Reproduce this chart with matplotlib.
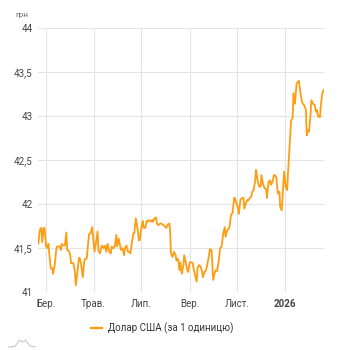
import matplotlib
matplotlib.use("Agg")
import matplotlib.pyplot as plt
import matplotlib.dates as mdates
import pandas as pd
from matplotlib.lines import Line2D

plt.rcParams["font.family"] = ["Roboto", "DejaVu Sans"]

# Курс долара США до гривні (за 1 одиницю)
dates = [
    "2025-02-19", "2025-02-21", "2025-02-23", "2025-02-24", "2025-02-26", "2025-02-27",
    "2025-03-01", "2025-03-03", "2025-03-04", "2025-03-05", "2025-03-07", "2025-03-09",
    "2025-03-10", "2025-03-12", "2025-03-14", "2025-03-15", "2025-03-18", "2025-03-20",
    "2025-03-21", "2025-03-23", "2025-03-25", "2025-03-27", "2025-03-28", "2025-03-30",
    "2025-04-01", "2025-04-02", "2025-04-05", "2025-04-07", "2025-04-08", "2025-04-10",
    "2025-04-12", "2025-04-13", "2025-04-15", "2025-04-17", "2025-04-19", "2025-04-20",
    "2025-04-22", "2025-04-25", "2025-04-27", "2025-04-29", "2025-05-01", "2025-05-02",
    "2025-05-04", "2025-05-06", "2025-05-07", "2025-05-09", "2025-05-11", "2025-05-12",
    "2025-05-14", "2025-05-16", "2025-05-17", "2025-05-19", "2025-05-21", "2025-05-23",
    "2025-05-24", "2025-05-26", "2025-05-28", "2025-05-30", "2025-05-31", "2025-06-02",
    "2025-06-04", "2025-06-05", "2025-06-07", "2025-06-09", "2025-06-10", "2025-06-12",
    "2025-06-14", "2025-06-16", "2025-06-17", "2025-06-19", "2025-06-21", "2025-06-22",
    "2025-06-24", "2025-06-26", "2025-06-28", "2025-06-29", "2025-07-01", "2025-07-03",
    "2025-07-04", "2025-07-06", "2025-07-08", "2025-07-09", "2025-07-11", "2025-07-13",
    "2025-07-15", "2025-07-16", "2025-07-18", "2025-07-20", "2025-07-21", "2025-07-23",
    "2025-07-25", "2025-07-27", "2025-07-28", "2025-07-30", "2025-08-01", "2025-08-02",
    "2025-08-04", "2025-08-06", "2025-08-07", "2025-08-08", "2025-08-10", "2025-08-12",
    "2025-08-14", "2025-08-15", "2025-08-17", "2025-08-19", "2025-08-20", "2025-08-22",
    "2025-08-24", "2025-08-25", "2025-08-27", "2025-08-29", "2025-08-30", "2025-09-01",
    "2025-09-03", "2025-09-05", "2025-09-06", "2025-09-08", "2025-09-10", "2025-09-11",
    "2025-09-13", "2025-09-15", "2025-09-17", "2025-09-18", "2025-09-20", "2025-09-22",
    "2025-09-23", "2025-09-25", "2025-09-27", "2025-09-29", "2025-09-30", "2025-10-01",
    "2025-10-04", "2025-10-06", "2025-10-08", "2025-10-10", "2025-10-12", "2025-10-14",
    "2025-10-16", "2025-10-17", "2025-10-19", "2025-10-21", "2025-10-22", "2025-10-24",
    "2025-10-26", "2025-10-28", "2025-10-29", "2025-10-31", "2025-11-02", "2025-11-03",
    "2025-11-05", "2025-11-07", "2025-11-09", "2025-11-10", "2025-11-12", "2025-11-14",
    "2025-11-15", "2025-11-17", "2025-11-19", "2025-11-20", "2025-11-22", "2025-11-24",
    "2025-11-25", "2025-11-27", "2025-11-29", "2025-12-01", "2025-12-02", "2025-12-04",
    "2025-12-06", "2025-12-08", "2025-12-09", "2025-12-11", "2025-12-13", "2025-12-14",
    "2025-12-16", "2025-12-18", "2025-12-19", "2025-12-21", "2025-12-23", "2025-12-25",
    "2025-12-26", "2025-12-28", "2025-12-30", "2025-12-31", "2026-01-02", "2026-01-04",
    "2026-01-05", "2026-01-07", "2026-01-09", "2026-01-11", "2026-01-12", "2026-01-14",
    "2026-01-16", "2026-01-18", "2026-01-19", "2026-01-21", "2026-01-23", "2026-01-24",
    "2026-01-26", "2026-01-28", "2026-01-29", "2026-01-30", "2026-02-01", "2026-02-03",
    "2026-02-04", "2026-02-06", "2026-02-08", "2026-02-10", "2026-02-11", "2026-02-13",
    "2026-02-15", "2026-02-16", "2026-02-18", "2026-02-20",
]

rate = [
    41.55, 41.71, 41.73, 41.57, 41.73, 41.73,
    41.52, 41.50, 41.55, 41.44, 41.27, 41.27,
    41.21, 41.31, 41.48, 41.52, 41.52, 41.48,
    41.55, 41.53, 41.53, 41.68, 41.48, 41.47,
    41.42, 41.33, 41.33, 41.23, 41.08, 41.21,
    41.39, 41.39, 41.31, 41.17, 41.36, 41.38,
    41.38, 41.66, 41.67, 41.74, 41.55, 41.46,
    41.57, 41.69, 41.48, 41.44, 41.52, 41.53,
    41.50, 41.53, 41.46, 41.55, 41.46, 41.44,
    41.52, 41.50, 41.52, 41.65, 41.52, 41.61,
    41.52, 41.48, 41.50, 41.42, 41.50, 41.53,
    41.46, 41.46, 41.44, 41.57, 41.67, 41.67,
    41.84, 41.73, 41.59, 41.59, 41.73, 41.81,
    41.73, 41.73, 41.81, 41.80, 41.82, 41.80,
    41.82, 41.80, 41.84, 41.85, 41.78, 41.76,
    41.78, 41.78, 41.77, 41.76, 41.74, 41.73,
    41.77, 41.78, 41.69, 41.44, 41.40, 41.46,
    41.42, 41.36, 41.38, 41.25, 41.34, 41.21,
    41.31, 41.42, 41.34, 41.25, 41.23, 41.34,
    41.34, 41.33, 41.27, 41.19, 41.12, 41.27,
    41.31, 41.29, 41.23, 41.17, 41.23, 41.25,
    41.29, 41.38, 41.49, 41.48, 41.33, 41.14,
    41.25, 41.24, 41.34, 41.50, 41.52, 41.67,
    41.74, 41.63, 41.70, 41.72, 41.74, 41.88,
    41.90, 42.07, 42.07, 42.01, 41.95, 41.89,
    42.05, 42.07, 42.07, 41.95, 42.01, 42.05,
    42.04, 42.07, 42.09, 42.14, 42.16, 42.27,
    42.39, 42.27, 42.20, 42.20, 42.33, 42.23,
    42.18, 42.17, 42.07, 42.25, 42.27, 42.22,
    42.25, 42.33, 42.33, 42.31, 42.12, 42.14,
    41.97, 41.93, 42.23, 42.37, 42.20, 42.16,
    42.35, 42.65, 42.95, 42.98, 43.26, 43.14,
    43.37, 43.39, 43.40, 43.26, 43.16, 43.14,
    43.12, 43.07, 42.78, 42.84, 42.82, 43.03,
    43.18, 43.14, 43.13, 43.05, 43.07, 42.99,
    42.99, 43.11, 43.26, 43.30,
]

y_ticks = [41, 41.5, 42, 42.5, 43, 43.5, 44]
y_labels = ["41", "41,5", "42", "42,5", "43", "43,5", "44"]
x_ticks = ["2025-03-01", "2025-05-01", "2025-07-01", "2025-09-01", "2025-11-01", "2026-01-01"]
x_labels = ["Бер.", "Трав.", "Лип.", "Вер.", "Лист.", "2026"]
series_name = "Долар США (за 1 одиницю)"

line_color = "#ff9d12"
grid_color = "#e4e4e4"
label_color = "#444444"

x = pd.to_datetime(dates)

fig = plt.figure(figsize=(3.42, 3.5), dpi=100)
ax = fig.add_axes([0.112, 0.165, 0.835, 0.755])

ax.plot(x, rate, color=line_color, lw=1.3, solid_joinstyle="round")

ax.set_xlim(x.min(), x.max())
ax.set_ylim(41, 44)
ax.set_yticks(y_ticks)
ax.set_yticklabels(y_labels)
ax.set_xticks(pd.to_datetime(x_ticks))
ax.set_xticklabels(x_labels)
ax.get_xticklabels()[-1].set_fontweight("bold")
ax.get_xticklabels()[-1].set_color("#222222")

ax.tick_params(axis="both", length=0, labelsize=7, colors=label_color)
ax.tick_params(axis="y", pad=4)
ax.tick_params(axis="x", pad=5)
ax.grid(True, color=grid_color, lw=0.8)
ax.set_axisbelow(True)
for s in ax.spines.values():
    s.set_visible(False)

fig.text(0.044, 0.958, "грн", fontsize=6, color="#666666", va="center", ha="left")

handle = Line2D([], [], color=line_color, lw=1.6)
fig.legend([handle], [series_name], loc="center", bbox_to_anchor=(0.475, 0.063),
           frameon=False, fontsize=7, handlelength=1.1, handletextpad=0.6,
           labelcolor="#333333")

# маленький логотип у лівому нижньому куті (координати в пікселях)
logo_px = [8.3, 15, 19.5, 22.5, 25.5, 30, 35]
logo_py = [3, 3.5, 10, 8, 10, 4, 3]
fig.add_artist(Line2D([p / 342 for p in logo_px], [p / 350 for p in logo_py],
                      transform=fig.transFigure, color="#c4c4c4", lw=0.7))

fig.savefig("out.png", dpi=100)
